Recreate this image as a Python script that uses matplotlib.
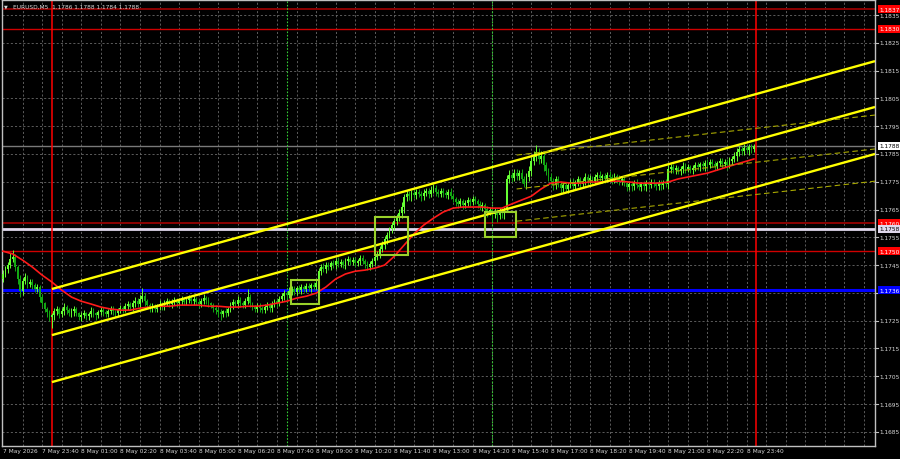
import numpy as np
import matplotlib
matplotlib.use("Agg")
import matplotlib.pyplot as plt
import matplotlib.transforms as mtransforms
from matplotlib import font_manager

# ---------------- data ----------------
symbol_title = "EURUSD,M5  1.1786 1.1788 1.1784 1.1788"
first_bar = -20          # 7 May 22:20 (bar 0 = 8 May 00:00)
first_open = 1.17400

closes = [
    1.17418, 1.17436, 1.17450, 1.17472, 1.17479, 1.17443, 1.17400, 1.17356, 1.17392, 1.17407,
    1.17382, 1.17389, 1.17378, 1.17364, 1.17371, 1.17335, 1.17313, 1.17292, 1.17281, 1.17263,
    1.17270, 1.17284, 1.17292, 1.17274, 1.17284, 1.17299, 1.17288, 1.17277, 1.17284, 1.17292,
    1.17277, 1.17263, 1.17270, 1.17277, 1.17266, 1.17274, 1.17284, 1.17277, 1.17270, 1.17281,
    1.17288, 1.17281, 1.17274, 1.17284, 1.17292, 1.17284, 1.17277, 1.17288, 1.17295, 1.17292,
    1.17302,
    1.17310, 1.17299, 1.17313, 1.17320, 1.17310, 1.17328, 1.17338, 1.17320, 1.17306, 1.17295,
    1.17302, 1.17292, 1.17299, 1.17310, 1.17302, 1.17313, 1.17320, 1.17310, 1.17317, 1.17324,
    1.17313, 1.17320, 1.17328, 1.17317, 1.17324, 1.17331, 1.17320,
    1.17328, 1.17317, 1.17310, 1.17320, 1.17331, 1.17324, 1.17313, 1.17306, 1.17295, 1.17288,
    1.17281, 1.17274, 1.17284, 1.17277, 1.17292, 1.17306, 1.17317, 1.17310, 1.17324, 1.17313,
    1.17306, 1.17320, 1.17335, 1.17313, 1.17299, 1.17292, 1.17302, 1.17295, 1.17288, 1.17299,
    1.17306, 1.17295, 1.17310, 1.17320, 1.17313, 1.17328,
    1.17338, 1.17349, 1.17342, 1.17356, 1.17364, 1.17353, 1.17367, 1.17360, 1.17371, 1.17364,
    1.17374, 1.17367, 1.17378, 1.17371, 1.17385, 1.17428, 1.17443, 1.17436, 1.17450, 1.17443,
    1.17457, 1.17450, 1.17464, 1.17454, 1.17461, 1.17450, 1.17464, 1.17472, 1.17461, 1.17468,
    1.17457, 1.17464, 1.17475, 1.17464, 1.17454, 1.17443, 1.17454,
    1.17464, 1.17479, 1.17490, 1.17508, 1.17522, 1.17544, 1.17558, 1.17580, 1.17594, 1.17608,
    1.17623, 1.17637, 1.17659, 1.17695, 1.17706, 1.17698, 1.17709, 1.17702, 1.17713, 1.17706,
    1.17698, 1.17709, 1.17716, 1.17706, 1.17720, 1.17727, 1.17713, 1.17706, 1.17716, 1.17709,
    1.17702, 1.17713, 1.17698, 1.17688, 1.17677, 1.17670, 1.17680, 1.17666, 1.17673, 1.17684,
    1.17677, 1.17688, 1.17680, 1.17670, 1.17659, 1.17666, 1.17652, 1.17641, 1.17648, 1.17634,
    1.17644, 1.17630, 1.17644, 1.17637, 1.17652, 1.17760, 1.17774, 1.17763, 1.17781, 1.17770,
    1.17781, 1.17760, 1.17742, 1.17767, 1.17788, 1.17824, 1.17839, 1.17857, 1.17832, 1.17842,
    1.17810, 1.17788, 1.17767, 1.17752, 1.17738, 1.17760, 1.17742, 1.17727, 1.17738, 1.17724,
    1.17738, 1.17749, 1.17734, 1.17745, 1.17760, 1.17742, 1.17752, 1.17767, 1.17756, 1.17763,
    1.17752, 1.17767, 1.17774, 1.17763, 1.17770, 1.17760, 1.17774, 1.17767, 1.17756, 1.17770,
    1.17763, 1.17752, 1.17760, 1.17745, 1.17731, 1.17742, 1.17734, 1.17749, 1.17738, 1.17731,
    1.17742, 1.17734, 1.17745, 1.17738, 1.17749, 1.17742, 1.17734, 1.17745, 1.17738, 1.17749,
    1.17742, 1.17796, 1.17803,
    1.17792, 1.17799, 1.17788, 1.17796, 1.17806, 1.17796, 1.17803, 1.17792, 1.17799, 1.17810,
    1.17803, 1.17814, 1.17806, 1.17817, 1.17810, 1.17821, 1.17814, 1.17806, 1.17817, 1.17824,
    1.17814, 1.17821, 1.17810, 1.17824, 1.17832, 1.17842, 1.17857, 1.17868, 1.17860, 1.17871,
    1.17864, 1.17875, 1.17868, 1.17878,
]

# wick extensions beyond the body, in points (0.00001)
wick_hi = [
    16, 12, 10, 20, 24, 12, 8, 16, 10, 14, 8, 12, 10, 6, 12, 8, 10, 6, 8, 6,
    8, 12, 10, 6, 10, 16, 8, 6, 12, 10, 8, 6, 10, 12, 6, 8, 14, 10, 6, 8, 12, 10, 6, 8, 12, 10, 6, 8, 12, 8, 10,
    12, 8, 10, 14, 10, 16, 30, 10, 8, 6, 12, 8, 10, 14, 8, 12, 10, 8, 12, 10, 8, 12, 10, 8, 12, 10, 8,
    10, 8, 12, 10, 14, 8, 10, 6, 8, 10, 8, 12, 6, 10, 8, 12, 10, 8, 14, 10, 8, 12, 30, 10, 6, 8, 12, 10, 8, 12, 10, 6, 10, 8, 12, 10,
    12, 10, 8, 14, 10, 12, 8, 10, 12, 8, 10, 12, 8, 10, 14, 12, 10, 16, 10, 12, 8, 12, 10, 14, 10, 8, 12, 10, 8, 12, 10, 8, 12, 10, 8, 10, 12,
    10, 8, 12, 10, 14, 10, 12, 8, 10, 12, 10, 14, 18, 12, 16, 12, 10, 14, 10, 12, 10, 14, 12, 10, 14, 16, 12, 10, 12, 10,
    12, 10, 14, 10, 8, 12, 10, 8, 12, 10, 8, 12, 10, 8, 10, 12, 8, 10, 12, 8, 10, 8, 12, 10, 8, 16, 18, 12, 14, 16,
    12, 16, 10, 14, 18, 16, 20, 24, 16, 18, 14, 12, 10, 14, 12, 10, 12, 10, 12, 10,
    12, 10, 14, 10, 12, 8, 10, 14, 10, 12, 8, 12, 10, 14, 8, 12, 10, 14, 10, 12, 8, 10, 12, 10, 8, 12, 10, 8, 12, 10,
    8, 12, 10, 8, 12, 10, 8, 10, 12, 8, 10, 14, 12,
    10, 12, 8, 10, 14, 10, 12, 8, 10, 12, 10, 8, 12, 10, 14, 10, 12, 10, 8, 12, 10, 12, 10, 14, 12, 16, 14, 12, 10, 14, 12, 10, 12, 8,
]
wick_lo = [
    12, 10, 16, 12, 10, 14, 18, 20, 12, 10, 16, 12, 14, 10, 12, 16, 14, 12, 16, 14,
    40, 16, 12, 14, 10, 12, 14, 10, 12, 16, 10, 12, 14, 10, 12, 14, 10, 12, 16, 10, 12, 14, 10, 12, 10, 14, 12, 10, 12, 14, 10,
    12, 10, 14, 12, 10, 14, 12, 16, 10, 12, 14, 10, 12, 10, 14, 12, 10, 12, 14, 10, 12, 10, 14, 12, 10, 12, 10,
    12, 10, 14, 12, 10, 14, 12, 10, 12, 14, 16, 20, 12, 14, 10, 12, 14, 10, 12, 14, 10, 12, 10, 14, 12, 10, 12, 14, 10, 12, 10, 14, 12, 10, 12, 10,
    12, 14, 10, 12, 14, 10, 12, 10, 14, 12, 10, 12, 14, 10, 12, 16, 12, 10, 14, 12, 10, 12, 14, 10, 12, 10, 14, 12, 10, 12, 14, 10, 12, 10, 14, 12, 10,
    12, 14, 10, 16, 12, 14, 18, 12, 14, 16, 12, 14, 16, 20, 14, 12, 16, 12, 14, 12, 16, 14, 12, 14, 12, 10, 14, 12, 10, 14,
    12, 14, 10, 12, 16, 14, 12, 14, 10, 12, 14, 12, 10, 14, 12, 16, 14, 18, 12, 28, 16, 24, 14, 18, 20, 12, 16, 14, 12, 14,
    14, 16, 12, 18, 14, 16, 12, 14, 18, 16, 20, 14, 16, 12, 18, 14, 12, 16, 14, 12,
    14, 12, 16, 14, 12, 14, 10, 12, 16, 14, 12, 10, 14, 12, 16, 14, 12, 10, 14, 12, 16, 14, 12, 10, 14, 12, 16, 14, 12, 10,
    14, 12, 16, 14, 12, 10, 14, 12, 16, 14, 12, 18, 14,
    12, 14, 10, 12, 16, 14, 12, 10, 14, 12, 10, 14, 12, 16, 14, 12, 10, 14, 12, 10, 14, 12, 16, 12, 14, 12, 16, 14, 12, 14, 12, 16, 14, 12,
]

ma_values = [
    1.17500, 1.17490, 1.17468, 1.17443, 1.17414, 1.17389, 1.17360, 1.17335, 1.17320, 1.17310,
    1.17299, 1.17292, 1.17288, 1.17288, 1.17295, 1.17299, 1.17302, 1.17302, 1.17306, 1.17306,
    1.17306, 1.17302, 1.17302, 1.17299, 1.17299, 1.17302, 1.17302, 1.17306, 1.17313, 1.17320,
    1.17331, 1.17338, 1.17349, 1.17371, 1.17400, 1.17418, 1.17428, 1.17432, 1.17439, 1.17450,
    1.17482, 1.17522, 1.17562, 1.17594, 1.17619, 1.17641, 1.17655, 1.17659, 1.17659, 1.17659,
    1.17655, 1.17655, 1.17670, 1.17684, 1.17698, 1.17724, 1.17745, 1.17749, 1.17745, 1.17745,
    1.17749, 1.17749, 1.17752, 1.17752, 1.17749, 1.17745, 1.17745, 1.17745, 1.17749, 1.17760,
    1.17767, 1.17774, 1.17781, 1.17792, 1.17803, 1.17814, 1.17824, 1.17832,
]
ma_bars = list(range(-20, 285, 4)) + [287]

# trend channel (solid yellow) anchors: bar index, prices
chan_bars = [0, 336.5]
chan_upper = [1.17364, 1.18184]
chan_mid = [1.17198, 1.18019]
chan_lower = [1.17029, 1.17850]
# regression channel (thin dashed)
reg_bars = [190, 336.5]
reg_upper = [1.17846, 1.17990]
reg_mid = [1.17724, 1.17868]
reg_lower = [1.17608, 1.17752]

# rectangles: start bar, end bar, low, high
box_t0 = [97.8, 132.2, 177.1]
box_t1 = [109.2, 145.7, 189.6]
box_lo = [1.17310, 1.17486, 1.17551]
box_hi = [1.17396, 1.17623, 1.17641]

day_separators = [0, 288]
session_lines = [96, 180]

level_prices = [1.1837, 1.1830, 1.1760, 1.1758, 1.1750, 1.1736]
bid_price = 1.1788

price_ticks = [1.1685, 1.1695, 1.1705, 1.1715, 1.1725, 1.1735, 1.1745, 1.1755,
               1.1765, 1.1775, 1.1785, 1.1795, 1.1805, 1.1815, 1.1825, 1.1835]
time_label_first = "7 May 2026"
time_labels = ["7 May 23:40", "8 May 01:00", "8 May 02:20", "8 May 03:40", "8 May 05:00",
               "8 May 06:20", "8 May 07:40", "8 May 09:00", "8 May 10:20", "8 May 11:40",
               "8 May 13:00", "8 May 14:20", "8 May 15:40", "8 May 17:00", "8 May 18:20",
               "8 May 19:40", "8 May 21:00", "8 May 22:20", "8 May 23:40"]

# ---------------- styles ----------------
names = {f.name for f in font_manager.fontManager.ttflist}
FONT = ["Liberation Sans Narrow", "DejaVu Sans"] if "Liberation Sans Narrow" in names else ["DejaVu Sans"]
FS = 5.0 if FONT[0] == "Liberation Sans Narrow" else 4.2

level_colors = ["#8b0000", "#d00000", "#8b0000", "#e0d8ec", "#d00000", "#0000ff"]
level_widths = [1.4, 1.0, 1.4, 2.0, 1.0, 2.2]
level_label_bg = ["#ff0000", "#ff0000", "#ff0000", "#e0d8ec", "#ff0000", "#0000ff"]
level_label_fg = ["white", "white", "white", "#000000", "white", "white"]

W, H = 900, 460
fig = plt.figure(figsize=(9, 4.6), dpi=100, facecolor="black")
L, R, T, B = 2, 875, 1, 447
ax = fig.add_axes([L / W, 1 - B / H, (R - L) / W, (B - T) / H])
ax.set_facecolor("black")

xmin, xmax = -20.4, 336.5
ymin, ymax = 1.16799, 1.18404
ax.set_xlim(xmin, xmax)
ax.set_ylim(ymin, ymax)
ax.set_xticks([])
ax.set_yticks([])
for s in ax.spines.values():
    s.set_color("#c0c0c0")
    s.set_linewidth(1.0)

# grid
grid_kw = dict(color="#6a6a6a", lw=0.6, dashes=(2.5, 2.5), zorder=1)
for p in price_ticks:
    ax.axhline(p, **grid_kw)
for b in range(-12, 337, 8):
    ax.axvline(b, **grid_kw)

# horizontal levels
ax.axhline(bid_price, color="#7a7a7a", lw=1.0, zorder=2)
for p, c, w in zip(level_prices, level_colors, level_widths):
    ax.axhline(p, color=c, lw=w, zorder=2)

# vertical lines
for b in day_separators:
    ax.axvline(b, color="#ff0000", lw=1.1, zorder=2)
for b in session_lines:
    ax.axvline(b, color="#33cc33", lw=0.8, dashes=(1.5, 1.5), zorder=2)

# candles
closes = np.array(closes)
n = len(closes)
idx = np.arange(first_bar, first_bar + n)
opens = np.concatenate([[first_open], closes[:-1]])
highs = np.maximum(opens, closes) + np.array(wick_hi[:n]) * 1e-5
lows = np.minimum(opens, closes) - np.array(wick_lo[:n]) * 1e-5
up = closes >= opens
col_up, col_dn = "#66ff33", "#13a813"
colors = np.where(up, col_up, col_dn)
ax.vlines(idx, lows, highs, colors=colors, lw=0.7, zorder=3)
body_h = np.maximum(np.abs(closes - opens), 0.000012)
ax.bar(idx, body_h, bottom=np.minimum(opens, closes), width=0.75, color=colors,
       linewidth=0, zorder=3)

# moving average
ax.plot(ma_bars, ma_values, color="#ff1a1a", lw=1.2, zorder=4)

# channels
for arr in (chan_upper, chan_mid, chan_lower):
    ax.plot(chan_bars, arr, color="#ffff00", lw=1.7, zorder=5, solid_capstyle="butt")
for arr in (reg_upper, reg_mid, reg_lower):
    ax.plot(reg_bars, arr, color="#a8a800", lw=0.8, dashes=(5, 3), zorder=5)

# boxes
for t0, t1, lo, hi in zip(box_t0, box_t1, box_lo, box_hi):
    ax.add_patch(plt.Rectangle((t0, lo), t1 - t0, hi - lo, fill=False,
                               edgecolor="#9ad22a", lw=1.5, zorder=6))

# right price scale
trans = mtransforms.blended_transform_factory(ax.transAxes, ax.transData)
xlab = (879 - L) / (R - L)
for p in price_ticks:
    ax.plot([1.0, 1.0 + 3 / (R - L)], [p, p], transform=trans, color="#c0c0c0",
            lw=0.8, clip_on=False)
    if min(abs(p - q) for q in level_prices) < 0.00015:
        continue  # hidden under a level label, as in the reference
    ax.text(xlab, p, f"{p:.4f}", transform=trans, color="#d8d8d8", fontsize=FS,
            family=FONT, va="center", ha="left", clip_on=False)

def price_box(p, txt, bg, fg):
    ax.text(xlab, p, txt, transform=trans, color=fg, fontsize=FS, family=FONT,
            va="center", ha="left", clip_on=False, zorder=10,
            bbox=dict(boxstyle="square,pad=0.25", fc=bg, ec="none"))

price_box(bid_price, f"{bid_price:.4f}", "#ffffff", "#000000")
for p, bg, fg in zip(level_prices, level_label_bg, level_label_fg):
    price_box(p, f"{p:.4f}", bg, fg)

# bottom time scale
ytxt = 1 - 449 / H
def bar_to_fig(b):
    return (L + (b - xmin) / (xmax - xmin) * (R - L)) / W
fig.text(bar_to_fig(first_bar), ytxt, time_label_first, color="#d8d8d8",
         fontsize=FS, family=FONT, va="top", ha="left")
for k, lab in enumerate(time_labels):
    b = -4 + 16 * k
    fig.text(bar_to_fig(b), ytxt, lab, color="#d8d8d8", fontsize=FS, family=FONT,
             va="top", ha="left")

# title
fig.text(4 / W, 1 - 7 / H, "\u25bc", color="#d8d8d8", fontsize=3.5,
         family=["DejaVu Sans"], va="center", ha="left")
fig.text(13 / W, 1 - 7 / H, symbol_title, color="#d8d8d8", fontsize=FS,
         family=FONT, va="center", ha="left")

fig.savefig("out.png", dpi=100, facecolor="black")
